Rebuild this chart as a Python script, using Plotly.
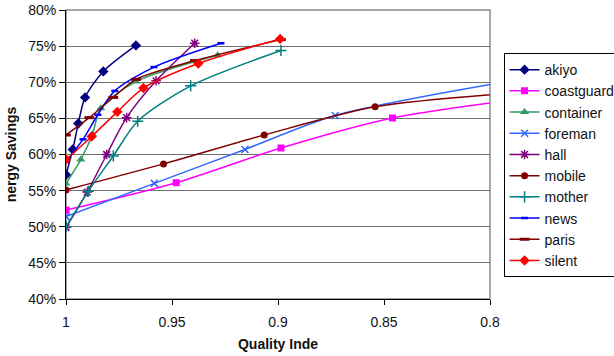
import plotly.graph_objects as go

series_names = ["akiyo", "coastguard", "container", "foreman", "hall",
                "mobile", "mother", "news", "paris", "silent"]

akiyo_x = [1.0, 0.9968, 0.9942, 0.991, 0.9824, 0.967]
akiyo_y = [0.572, 0.607, 0.643, 0.679, 0.715, 0.751]

coastguard_x = [1.0, 0.948, 0.8986, 0.846, 0.79]
coastguard_y = [0.523, 0.561, 0.609, 0.6505, 0.675]

container_x = [1.0, 0.993, 0.9875, 0.9836, 0.967, 0.9285]
container_y = [0.560, 0.593, 0.628, 0.664, 0.701, 0.7375]

foreman_x = [1.0, 0.9583, 0.9156, 0.873, 0.79]
foreman_y = [0.514, 0.560, 0.607, 0.654, 0.702]

hall_x = [1.0, 0.990, 0.9808, 0.9714, 0.9575, 0.9393]
hall_y = [0.499, 0.548, 0.600, 0.651, 0.702, 0.754]

mobile_x = [1.0, 0.954, 0.9065, 0.8542, 0.79]
mobile_y = [0.551, 0.587, 0.627, 0.666, 0.685]

mother_x = [1.0, 0.9895, 0.9777, 0.9662, 0.9412, 0.8986]
mother_y = [0.500, 0.549, 0.598, 0.646, 0.695, 0.744]

news_x = [1.0, 0.992, 0.985, 0.977, 0.9585, 0.9269]
news_y = [0.590, 0.621, 0.655, 0.688, 0.721, 0.754]

paris_x = [1.0, 0.989, 0.9777, 0.967, 0.9392, 0.8986]
paris_y = [0.627, 0.651, 0.679, 0.704, 0.730, 0.759]

silent_x = [1.0, 0.9879, 0.9758, 0.9635, 0.9376, 0.899]
silent_y = [0.593, 0.625, 0.659, 0.692, 0.726, 0.760]

x_tick_vals = [1.0, 0.95, 0.9, 0.85, 0.8]
x_tick_text = ["1", "0.95", "0.9", "0.85", "0.8"]
y_tick_vals = [0.40, 0.45, 0.50, 0.55, 0.60, 0.65, 0.70, 0.75, 0.80]

data = {
    "akiyo": (akiyo_x, akiyo_y),
    "coastguard": (coastguard_x, coastguard_y),
    "container": (container_x, container_y),
    "foreman": (foreman_x, foreman_y),
    "hall": (hall_x, hall_y),
    "mobile": (mobile_x, mobile_y),
    "mother": (mother_x, mother_y),
    "news": (news_x, news_y),
    "paris": (paris_x, paris_y),
    "silent": (silent_x, silent_y),
}

styles = {
    "akiyo": dict(color="#000080", symbol="diamond", size=8, lw=0),
    "coastguard": dict(color="#FF00FF", symbol="square", size=7, lw=0),
    "container": dict(color="#339966", symbol="triangle-up", size=8, lw=0),
    "foreman": dict(color="#3366FF", symbol="x-thin-open", size=7, lw=1.5),
    "hall": dict(color="#800080", symbol="asterisk-open", size=8, lw=1.5),
    "mobile": dict(color="#800000", symbol="circle", size=7, lw=0),
    "mother": dict(color="#008080", symbol="cross-thin-open", size=8, lw=1.5),
    "news": dict(color="#0000FF", symbol="line-ew-open", size=5, lw=2.5),
    "paris": dict(color="#800000", symbol="line-ew-open", size=7, lw=3),
    "silent": dict(color="#FF0000", symbol="diamond", size=8, lw=0),
}

fig = go.Figure()
for name in series_names:
    xs, ys = data[name]
    st = styles[name]
    fig.add_trace(go.Scatter(
        x=xs, y=ys, name=name, mode="lines+markers",
        line=dict(color=st["color"], width=1.5, shape="spline", smoothing=0.8),
        marker=dict(symbol=st["symbol"], size=st["size"], color=st["color"],
                    line=dict(color=st["color"], width=st["lw"])),
    ))

font_family = "Liberation Sans, Arial, sans-serif"

fig.update_layout(
    width=614, height=356,
    margin=dict(l=66, r=124, t=10, b=57, autoexpand=False),
    paper_bgcolor="white", plot_bgcolor="white",
    font=dict(family=font_family, size=14, color="#111111"),
    showlegend=True,
    legend=dict(x=1.032, y=0.851, xanchor="left", yanchor="top",
                bordercolor="#000000", borderwidth=1, bgcolor="white",
                font=dict(size=14, family=font_family), itemwidth=30,
                tracegroupgap=0),
    xaxis=dict(
        range=[1.0, 0.8], tickvals=x_tick_vals, ticktext=x_tick_text,
        showgrid=False, zeroline=False, showline=True, linecolor="#000000",
        linewidth=1, ticks="outside", ticklen=5, tickcolor="#000000",
        tickfont=dict(size=14), automargin=False, ticklabelstandoff=5,
        title=dict(text="<b>Quality Inde</b>", font=dict(size=14), standoff=10),
    ),
    yaxis=dict(
        range=[0.40, 0.80], tickvals=y_tick_vals, tickformat=".0%",
        showgrid=True, gridcolor="#6e6e6e", gridwidth=1,
        zeroline=False, showline=True, linecolor="#000000", linewidth=1,
        ticks="outside", ticklen=6, tickcolor="#000000",
        tickfont=dict(size=14), automargin=False,
        title=dict(text="<b>nergy Savings</b>", font=dict(size=14), standoff=8),
    ),
    shapes=[dict(type="rect", xref="paper", yref="paper", x0=0, x1=1, y0=0, y1=1,
                 line=dict(color="#8a8a8a", width=1.5), layer="below")],
)

fig.write_html("out.html", config={"displayModeBar": False},
               post_script="document.body.style.margin='0';")
